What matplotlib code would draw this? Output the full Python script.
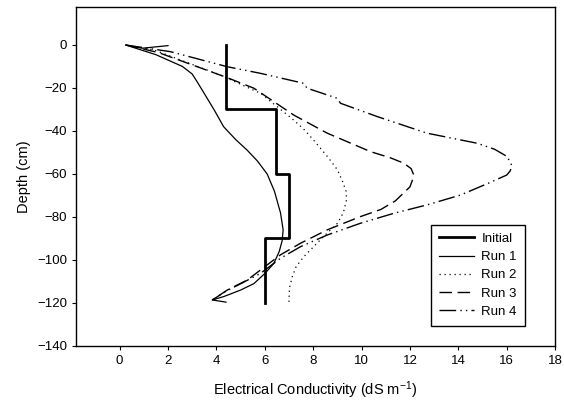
import matplotlib
matplotlib.use("Agg")
import matplotlib.pyplot as plt

plt.rcParams['font.family'] = ['Liberation Sans', 'DejaVu Sans']
plt.rcParams['mathtext.default'] = 'regular'

# Initial profile (step)
init_ec = [4.4, 4.4, 6.45, 6.45, 7.0, 7.0, 6.0, 6.0]
init_depth = [0, -30, -30, -60, -60, -90, -90, -120]

# Run 1
run1_ec = [2.0, 0.94, 0.25, 1.5, 2.6, 3.0, 3.2, 3.47, 3.9, 4.3, 4.8, 5.28, 5.7, 6.1,
           6.4, 6.65, 6.76, 6.72, 6.6, 6.38, 6.03, 5.55, 5.0, 4.31, 3.83, 4.4]
run1_depth = [-0.3, -1.5, 0, -4.5, -10, -13.5, -17, -22, -30, -38, -44, -49, -54, -60,
              -68, -78, -86, -91, -96, -101.5, -106, -111, -114, -117, -118.6, -119.6]

# Run 2
run2_ec = [0.25, 1.42, 4.17, 5.83, 7.1, 7.6, 8.0, 8.6, 9.0, 9.2, 9.36, 9.38, 9.25,
           9.0, 8.44, 7.62, 7.3, 7.14, 7.02, 7.0]
run2_depth = [0, -2.3, -14, -22.5, -34, -39, -44, -52, -58, -63, -68, -72, -78,
              -83, -89, -98.4, -103, -107.7, -113, -120]

# Run 3
run3_ec = [0.25, 1.6, 4.45, 5.55, 7.2, 8.58, 10.37, 11.2, 11.75, 12.05, 12.16, 12.1,
           12.0, 11.4, 10.8, 9.96, 8.58, 7.48, 6.65, 5.83, 5.28, 4.45, 3.83]
run3_depth = [0, -3.5, -15.2, -20.1, -32.6, -41, -49.6, -52.5, -55, -57.5, -60.5, -63,
              -66, -72.5, -76.5, -79.8, -86, -92.2, -97.6, -104.6, -109.3, -114, -118.6]

# Run 4
run4_ec = [0.25, 2.1, 4.45, 5.83, 7.6, 7.75, 9.0, 9.13, 10.65, 12.7, 14.78, 15.5,
           16.02, 16.2, 16.15, 16.0, 15.2, 14.09, 12.7, 11.33, 9.96, 8.58, 7.48,
           6.65, 5.83, 5.1, 4.4, 3.83]
run4_depth = [0, -3.1, -10.1, -13.2, -17.8, -20.1, -24.8, -27.1, -33.3, -41, -45.7,
              -48.5, -51.9, -55.8, -58.5, -60.5, -64.5, -69.8, -74.4, -78.3, -82.9,
              -88.4, -93.8, -99.2, -106.2, -110.5, -114.5, -118.6]

fig = plt.figure(figsize=(5.64, 4.08), dpi=100)
ax = fig.add_axes([0.1348, 0.152, 0.8494, 0.831])

ax.plot(init_ec, init_depth, color='black', lw=2.0, label='Initial')
ax.plot(run1_ec, run1_depth, color='black', lw=0.9, label='Run 1')
ax.plot(run2_ec, run2_depth, color='black', lw=0.9, dashes=(1, 3), label='Run 2')
ax.plot(run3_ec, run3_depth, color='black', lw=1.0, dashes=(9, 4), label='Run 3')
ax.plot(run4_ec, run4_depth, color='black', lw=1.0, dashes=(12, 3, 1, 3, 1, 3), label='Run 4')

ax.set_xlim(-1.8, 18)
ax.set_ylim(-140, 17.7)
ax.set_xticks(range(0, 19, 2))
ax.set_yticks(range(-140, 1, 20))
ax.tick_params(direction='out', length=3, width=0.8, labelsize=9.5, top=False, right=False)
for s in ax.spines.values():
    s.set_linewidth(1.0)

ax.set_xlabel('Electrical Conductivity (dS m$^{-1}$)', fontsize=10.5, labelpad=9)
ax.set_ylabel('Depth (cm)', fontsize=10.5, labelpad=4)

leg = ax.legend(loc='lower right', bbox_to_anchor=(0.937, 0.06), borderaxespad=0,
                fontsize=9.5, fancybox=False, edgecolor='black', framealpha=1,
                handlelength=2.6, handletextpad=0.6, labelspacing=0.45,
                borderpad=0.6)
leg.get_frame().set_linewidth(1.0)

fig.savefig('out.png', dpi=100)
